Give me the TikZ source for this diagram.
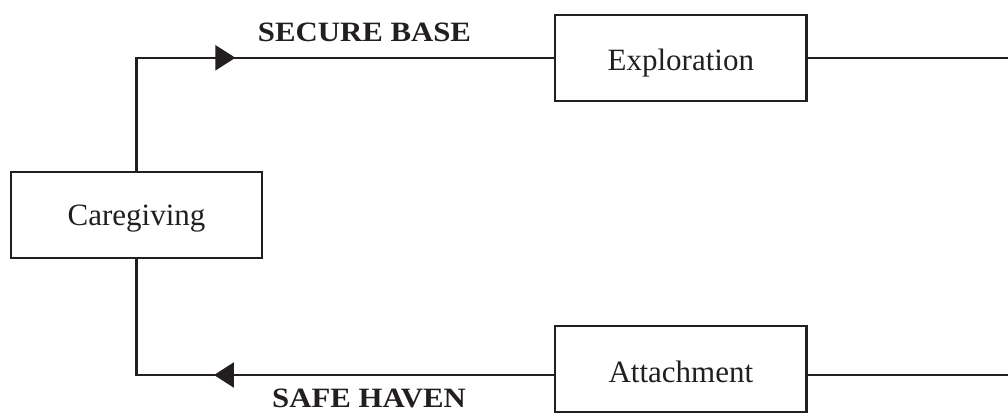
\documentclass[tikz,border=0pt]{standalone}
\usepackage{fontspec}
\setmainfont{Liberation Serif}
\usetikzlibrary{arrows.meta,decorations.markings}
\definecolor{ink}{RGB}{35,31,32}
\tikzset{
  x=1pt, y=1pt,
  box/.style={draw=ink, text=ink, line width=2.2pt, minimum width=251.5pt,
    minimum height=86pt, inner sep=0pt,
    font=\fontsize{31}{36}\selectfont, text depth=0pt, text height=21pt},
  flow/.style={draw=ink, line width=2.2pt},
  lbl/.style={text=ink, inner sep=0pt, anchor=base,
    font=\fontsize{28}{32}\selectfont\bfseries},
  tipat/.style={postaction={decorate}, decoration={markings,
    mark=at position #1 with {\arrow{Triangle[length=20pt,width=25pt]}}}}
}
\begin{document}
\begin{tikzpicture}
\useasboundingbox (0,0) rectangle (1008,412);
% boxes
\node[box] (care) at (136.5,197) {Caregiving};
\node[box, text height=25.4pt] (expl) at (680.8,354.2) {Exploration};
\node[box, text height=26.4pt, minimum height=86.5pt] (att) at (680.8,42.75) {Attachment};
% loose ends on the right edge
\coordinate (eR) at (1008,354.2);
\coordinate (attL) at ([yshift=-5.75pt]att.west);
\coordinate (attR) at ([yshift=-5.75pt]att.east);
\coordinate (aR) at (1008,37);
% secure base path
\draw[flow, tipat=212pt] (care.north) |- (expl.west);
\draw[flow] (expl.east) -- (eR);
% safe haven path
\draw[flow, tipat=340pt] (attL) -| (care.south);
\draw[flow] (attR) -- (aR);
% labels
\node[lbl] (secure) at (364.5,370.3) {\scalebox{1.1}[1]{SECURE BASE}};
\node[lbl] (safe) at (369,4.5) {\scalebox{1.1}[1]{SAFE HAVEN}};
\end{tikzpicture}
\end{document}
